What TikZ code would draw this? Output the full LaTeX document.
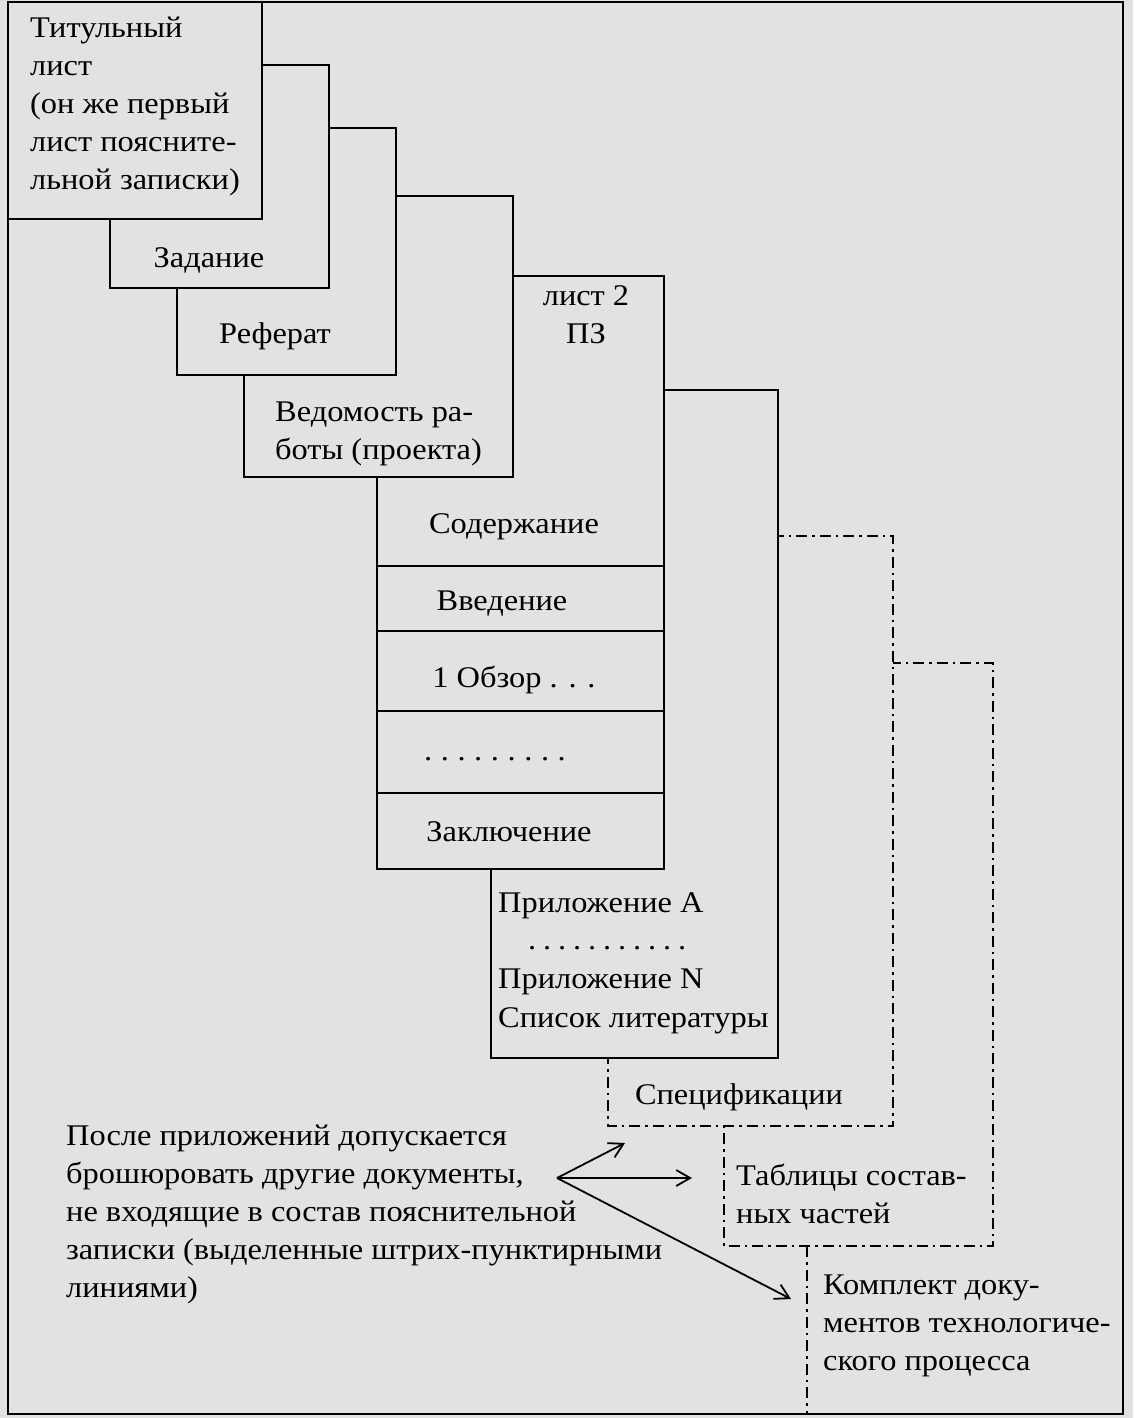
\documentclass[tikz,border=0pt]{standalone}
\usepackage{fontspec}
\setmainfont{Liberation Serif}[FakeStretch=1.08]
\usetikzlibrary{arrows.meta}
\definecolor{bg}{RGB}{226,226,226}
\tikzset{
  page/.style={draw=black, fill=bg, line width=2.2pt},
  ddot/.style={draw=black, fill=bg, line width=2pt, dash pattern=on 11pt off 5pt on 2.5pt off 5pt},
  dline/.style={draw=black, line width=2pt, dash pattern=on 11pt off 5pt on 2.5pt off 5pt},
  divider/.style={draw=black, line width=2.2pt},
  txt/.style={font=\fontsize{30}{38}\selectfont, inner sep=0pt, text=black},
  arr/.style={draw=black, line width=1.8pt, -{Straight Barb[length=14pt,width=16pt,line width=1.8pt]}}
}
\newcommand\dotrow[2]{\foreach \i in {1,...,#1}{\ifnum\i>1\kern#2\fi.}}
\begin{document}
\begin{tikzpicture}[x=1pt,y=-1pt]
\fill[bg] (0,0) rectangle (1133,1418);
\useasboundingbox (0,0) rectangle (1133,1418);
% outer frame
\draw[line width=2.4pt] (8,2) rectangle (1123,1414);
% dash-dotted documents (back to front)
\draw[dline] (807,1246) -- (807,1414);
\draw[ddot] (724,663) rectangle (993,1246);
\draw[ddot] (608,536) rectangle (893,1126);
% solid pages (back to front)
\draw[page] (491,390) rectangle (778,1058);
\draw[page] (377,276) rectangle (664,869);
\draw[divider] (377,566) -- (664,566);
\draw[divider] (377,631) -- (664,631);
\draw[divider] (377,711) -- (664,711);
\draw[divider] (377,793) -- (664,793);
\draw[page] (244,196) rectangle (513,477);
\draw[page] (177,128) rectangle (396,375);
\draw[page] (110,65) rectangle (329,288);
\draw[page] (8,2) rectangle (262,219);
% texts
\node[txt, anchor=west, align=left] (title) at (30,106) {Титульный\\лист\\(он же первый\\лист поясните-\\льной записки)};
\node[txt] (zadanie) at (209,260) {Задание};
\node[txt] (referat) at (275,336) {Реферат};
\node[txt, anchor=west, align=left] (vedom) at (275,434) {Ведомость ра-\\боты (проекта)};
\node[txt, align=center] (list2) at (586,315) {лист 2\\ПЗ};
\node[txt] (soderzh) at (514,527) {Содержание};
\node[txt] (vvedenie) at (502,604) {Введение};
\node[txt] (obzor) at (514,680) {1 Обзор . . .};
\node[txt] (dots1) at (495,759) {\dotrow{9}{8.6pt}};
\node[txt] (zakl) at (509,832) {Заключение};
\node[txt, anchor=west] (prilA) at (498,906) {Приложение А};
\node[txt, anchor=west] (dots2) at (528,948) {\dotrow{11}{6.9pt}};
\node[txt, anchor=west] (prilN) at (498,982) {Приложение N};
\node[txt, anchor=west] (spisok) at (498,1021) {Список литературы};
\node[txt] (spec) at (739,1097) {Спецификации};
\node[txt, anchor=west, align=left] (tabl) at (736,1194) {Таблицы состав-\\ных частей};
\node[txt, anchor=west, align=left] (kompl) at (823,1326) {Комплект доку-\\ментов технологиче-\\ского процесса};
\node[txt, anchor=west, align=left] (note) at (66,1214) {После приложений допускается\\брошюровать другие документы,\\не входящие в состав пояснительной\\записки (выделенные штрих-пунктирными\\линиями)};
% arrows
\coordinate (src) at (557,1178);
\coordinate (toSpec) at (625,1143);
\coordinate (toTabl) at (692,1178);
\coordinate (toKompl) at (791,1299);
\draw[arr] (src) -- (toSpec);
\draw[arr] (src) -- (toTabl);
\draw[arr] (src) -- (toKompl);
\end{tikzpicture}
\end{document}
